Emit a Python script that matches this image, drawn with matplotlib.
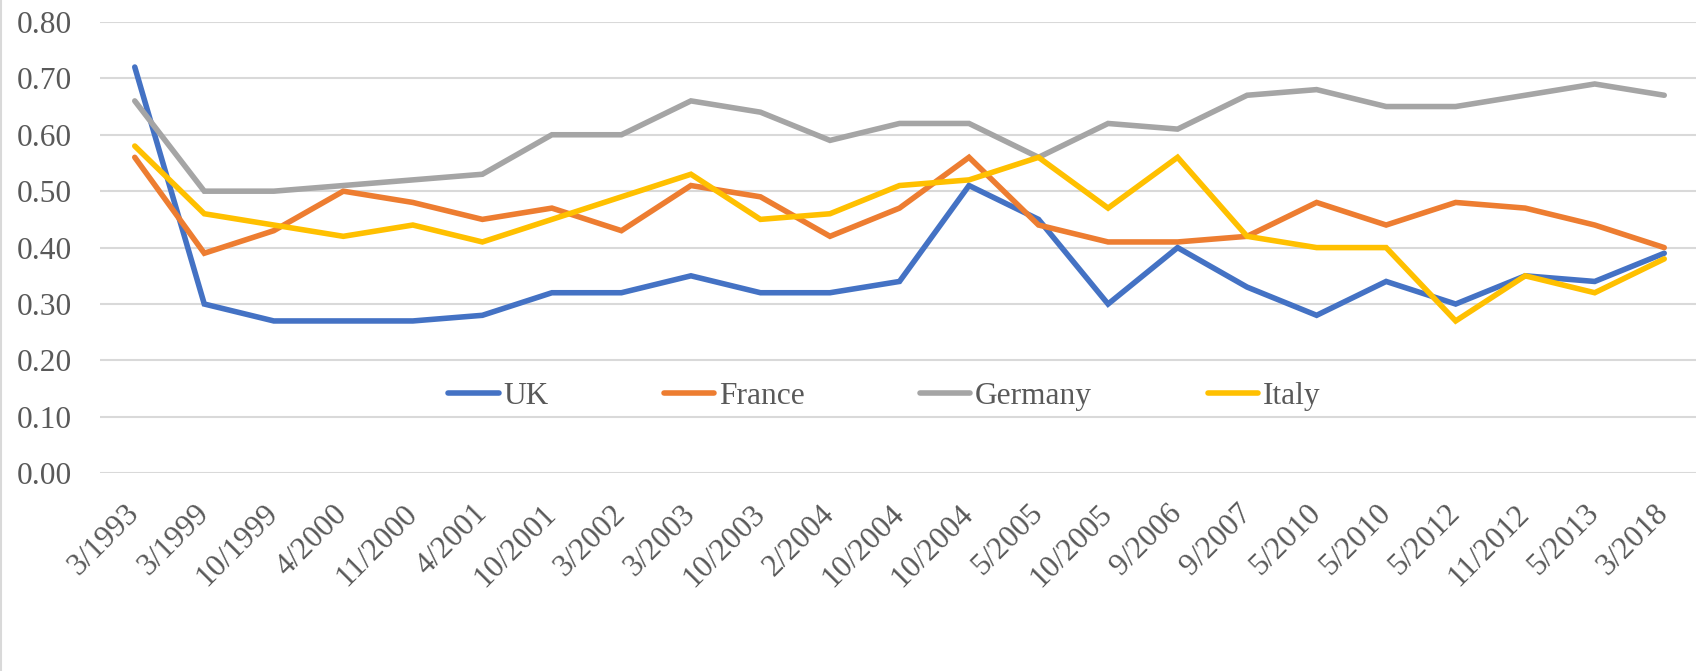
import matplotlib.pyplot as plt
from matplotlib.lines import Line2D

categories = [
    "3/1993", "3/1999", "10/1999", "4/2000", "11/2000", "4/2001", "10/2001",
    "3/2002", "3/2003", "10/2003", "2/2004", "10/2004", "10/2004", "5/2005",
    "10/2005", "9/2006", "9/2007", "5/2010", "5/2010", "5/2012", "11/2012",
    "5/2013", "3/2018",
]
uk = [0.72, 0.30, 0.27, 0.27, 0.27, 0.28, 0.32, 0.32, 0.35, 0.32, 0.32, 0.34,
      0.51, 0.45, 0.30, 0.40, 0.33, 0.28, 0.34, 0.30, 0.35, 0.34, 0.39]
france = [0.56, 0.39, 0.43, 0.50, 0.48, 0.45, 0.47, 0.43, 0.51, 0.49, 0.42, 0.47,
          0.56, 0.44, 0.41, 0.41, 0.42, 0.48, 0.44, 0.48, 0.47, 0.44, 0.40]
germany = [0.66, 0.50, 0.50, 0.51, 0.52, 0.53, 0.60, 0.60, 0.66, 0.64, 0.59, 0.62,
           0.62, 0.56, 0.62, 0.61, 0.67, 0.68, 0.65, 0.65, 0.67, 0.69, 0.67]
italy = [0.58, 0.46, 0.44, 0.42, 0.44, 0.41, 0.45, 0.49, 0.53, 0.45, 0.46, 0.51,
         0.52, 0.56, 0.47, 0.56, 0.42, 0.40, 0.40, 0.27, 0.35, 0.32, 0.38]

series = [
    ("UK", uk, "#4472C4"),
    ("France", france, "#ED7D31"),
    ("Germany", germany, "#A5A5A5"),
    ("Italy", italy, "#FFC000"),
]

TEXT_COLOR = "#595959"
GRID_COLOR = "#D9D9D9"
FONT_SIZE = 22.6
LINE_W = 4.0

plt.rcParams["font.family"] = ["Liberation Serif", "DejaVu Serif"]

fig = plt.figure(figsize=(16.96, 6.71), dpi=100)
ax = fig.add_axes([100 / 1696, 197.7 / 671, 1599 / 1696, 451.4 / 671])

x = list(range(len(categories)))
for name, vals, color in series:
    ax.plot(x, vals, color=color, lw=LINE_W, label=name,
            solid_capstyle="round", solid_joinstyle="miter")

ax.set_xlim(-0.5, len(categories) - 0.5)
ax.set_ylim(0, 0.8)
ax.set_yticks([i / 10 for i in range(9)])
ax.set_yticklabels([f"{i / 10:.2f}" for i in range(9)])
ax.set_xticks(x)
ax.set_xticklabels(categories, rotation=45, ha="right", va="center",
                   rotation_mode="anchor")

ax.grid(axis="y", color=GRID_COLOR, lw=1.5)
ax.set_axisbelow(True)
for s in ax.spines.values():
    s.set_visible(False)
ax.tick_params(axis="both", length=0, labelsize=FONT_SIZE, colors=TEXT_COLOR)
ax.tick_params(axis="y", pad=20)
ax.tick_params(axis="x", pad=26)

leg = ax.legend(loc="center", bbox_to_anchor=(0.4905, 0.171), ncol=4, frameon=False,
                fontsize=FONT_SIZE, handlelength=1.6, handletextpad=0.15,
                columnspacing=3.68, borderpad=0, borderaxespad=0)
for t in leg.get_texts():
    t.set_color(TEXT_COLOR)
for h in leg.legend_handles:
    h.set_solid_capstyle("round")
    h.set_linewidth(LINE_W)

# thin chart border on the left edge
fig.add_artist(Line2D([0.0005, 0.0005], [0, 1], transform=fig.transFigure,
                      color=GRID_COLOR, lw=1.5))

fig.savefig("out.png", dpi=100)
